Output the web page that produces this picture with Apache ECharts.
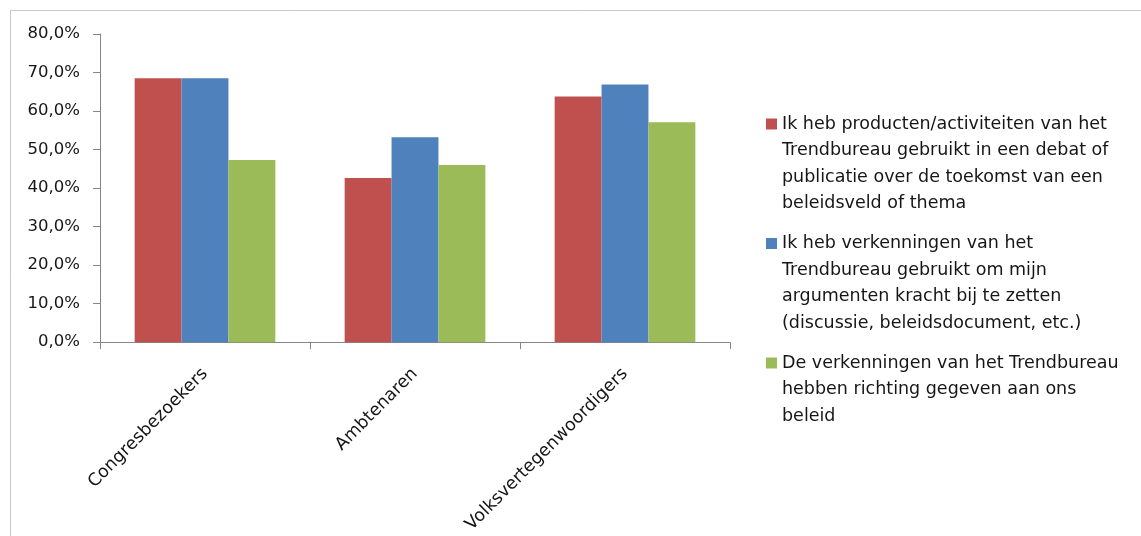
<!DOCTYPE html>
<html>
<head>
<meta charset="utf-8">
<script src="https://cdn.jsdelivr.net/npm/echarts@6/dist/echarts.min.js"></script>
<style>
  html, body { margin: 0; padding: 0; background: #fff; }
  #chart { width: 1141px; height: 536px; }
</style>
</head>
<body>
<div id="chart"></div>
<script>
// Groups of respondents
const categories = ['Congresbezoekers', 'Ambtenaren', 'Volksvertegenwoordigers'];

// Share of respondents per statement (percent)
const gebruiktInDebat = [68.5, 42.6, 63.8];
const verkenningenArgumenten = [68.5, 53.2, 66.9];
const richtingBeleid = [47.3, 46.0, 57.1];

// Legend texts, already broken into lines
const seriesNames = [
  'Ik heb producten/activiteiten van het\nTrendbureau gebruikt in een debat of\npublicatie over de toekomst van een\nbeleidsveld of thema',
  'Ik heb verkenningen van het\nTrendbureau gebruikt om mijn\nargumenten kracht bij te zetten\n(discussie, beleidsdocument, etc.)',
  'De verkenningen van het Trendbureau\nhebben richting gegeven aan ons\nbeleid'
];

const colors = ['#C0504D', '#4F81BD', '#9BBB59'];
const swatchKeys = ['sr', 'sb', 'sg'];

const FONT = '"DejaVu Sans", "Open Sans", sans-serif';
const TEXT_COLOR = '#161616';
const LH = 26.5;

const rich = {
  t: { fontFamily: FONT, fontSize: 17.5, color: TEXT_COLOR, lineHeight: LH },
  pad: { width: 16, height: 10, lineHeight: LH },
  gap: { width: 5, height: 10, lineHeight: LH }
};
swatchKeys.forEach((k, i) => {
  rich[k] = { backgroundColor: colors[i], width: 11, height: 11, lineHeight: LH };
});

const chart = echarts.init(document.getElementById('chart'), null, { renderer: 'canvas' });

const seriesData = [gebruiktInDebat, verkenningenArgumenten, richtingBeleid];

chart.setOption({
  animation: false,
  backgroundColor: '#fff',
  graphic: [{
    type: 'rect',
    shape: { x: 10.5, y: 10.5, width: 1300, height: 700 },
    style: { fill: 'none', stroke: '#c8c8c8', lineWidth: 1 },
    silent: true
  }],
  grid: { left: 100, top: 34, width: 630, height: 310, containLabel: false },
  legend: {
    orient: 'vertical',
    left: 761,
    top: 115,
    padding: 0,
    itemGap: 22,
    icon: 'none',
    itemWidth: 0,
    itemHeight: 0,
    selectedMode: false,
    data: seriesNames,
    formatter: function (name) {
      const idx = seriesNames.indexOf(name);
      const lines = name.split('\n');
      return lines.map((ln, j) => (j === 0 ? '{' + swatchKeys[idx] + '|}{gap|}' : '{pad|}') + '{t|' + ln + '}').join('\n');
    },
    textStyle: { rich: rich, padding: 0 }
  },
  xAxis: {
    type: 'category',
    data: categories,
    axisLine: { lineStyle: { color: '#868686', width: 1 } },
    axisTick: { show: true, length: 7, lineStyle: { color: '#868686' } },
    axisLabel: {
      rotate: 45,
      margin: 29,
      fontFamily: FONT,
      fontSize: 17.5,
      color: TEXT_COLOR,
      interval: 0
    }
  },
  yAxis: {
    type: 'value',
    min: 0,
    max: 80,
    interval: 10,
    axisLine: { show: true, lineStyle: { color: '#868686', width: 1 } },
    axisTick: { show: true, length: 7, lineStyle: { color: '#868686' } },
    splitLine: { show: false },
    axisLabel: {
      margin: 20,
      fontFamily: FONT,
      fontSize: 16.5,
      color: TEXT_COLOR,
      formatter: v => v.toFixed(1).replace('.', ',') + '%'
    }
  },
  series: seriesNames.map((name, i) => ({
    name: name,
    type: 'bar',
    data: seriesData[i],
    barGap: '0%',
    barCategoryGap: '33%',
    itemStyle: { color: colors[i] }
  }))
});
</script>
</body>
</html>
